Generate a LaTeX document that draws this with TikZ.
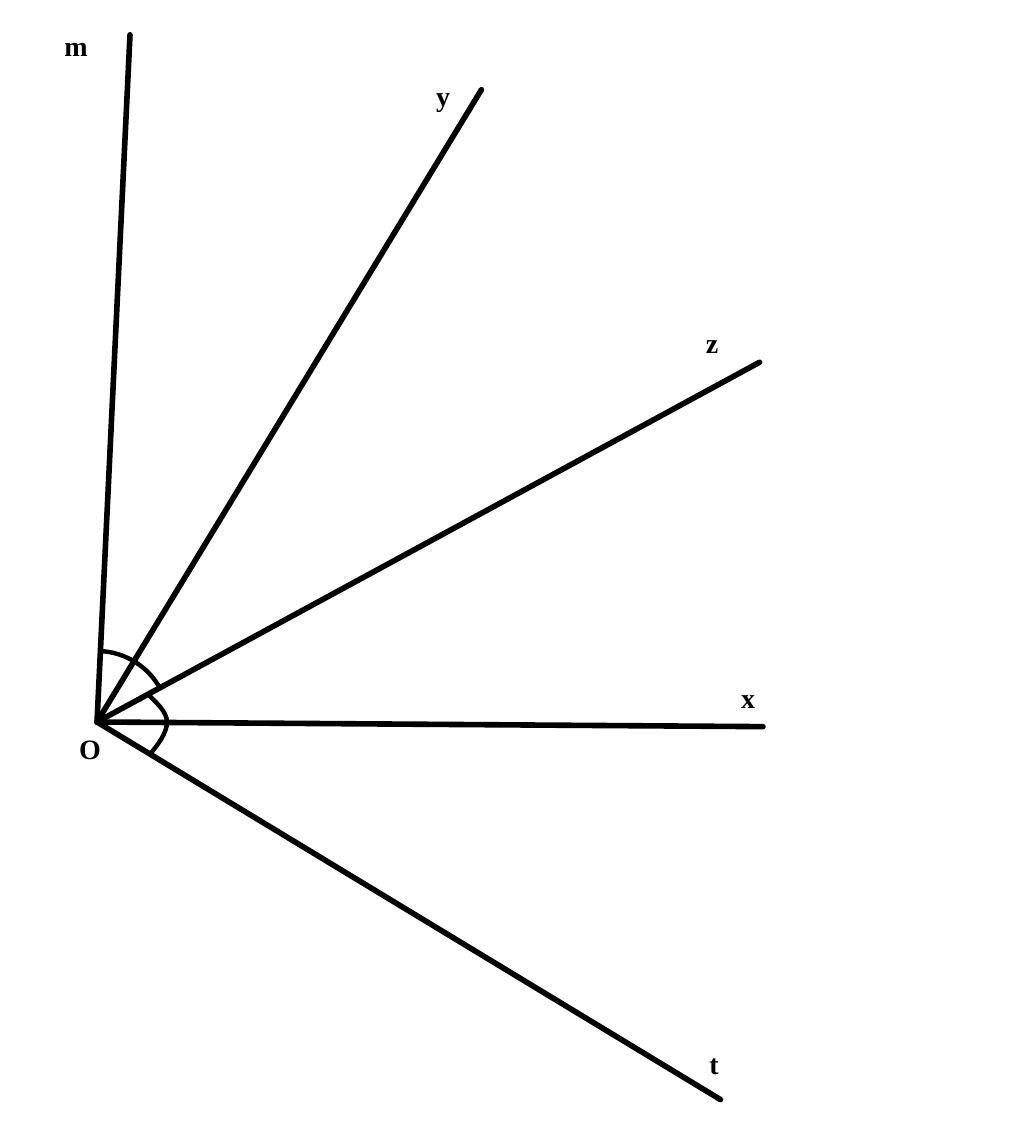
\documentclass[tikz,border=0pt]{standalone}
\usepackage{fontspec}
\setmainfont{Liberation Serif}
\usetikzlibrary{positioning}
\tikzstyle{rayo} = [line width=2.8pt, line cap=round]
\tikzstyle{marca} = [line width=2.2pt]
\tikzstyle{etiqueta} = [font=\fontsize{14}{16}\selectfont\bfseries, inner sep=0pt]

\begin{document}
\begin{tikzpicture}[x=0.5pt, y=0.5pt]
	\useasboundingbox (-97,-411) rectangle (927,722);
	\coordinate (O) at (0,0);
	\coordinate (M) at (87.25:688);
	\coordinate (Y) at (58.7:740);
	\coordinate (Z) at (28.5:754);
	\coordinate (X) at (-0.4:666);
	\coordinate (T) at (-31.2:729);
	\draw[rayo] (O) -- (M);
	\draw[rayo] (O) -- (Y);
	\draw[rayo] (O) -- (Z);
	\draw[rayo] (O) -- (X);
	\draw[rayo] (O) -- (T);
	% marcas de los angulos
	\draw[marca] (87.25:71) arc[start angle=87.25, end angle=28.5, radius=72];
	\draw[marca] (28.5:58) to[out=-45, in=90, looseness=0.8] (0:70) to[out=-90, in=50, looseness=0.8] (-31.2:62);
	\node[etiqueta] (m) at (-21,672) {m};
	\node[etiqueta] (y) at (346,619) {y};
	\node[etiqueta] (z) at (615,375) {z};
	\node[etiqueta] (x) at (651,20) {x};
	\node[etiqueta] (t) at (617,-345) {t};
	\node[etiqueta] (o) at (-7,-28) {O};
\end{tikzpicture}
\end{document}
